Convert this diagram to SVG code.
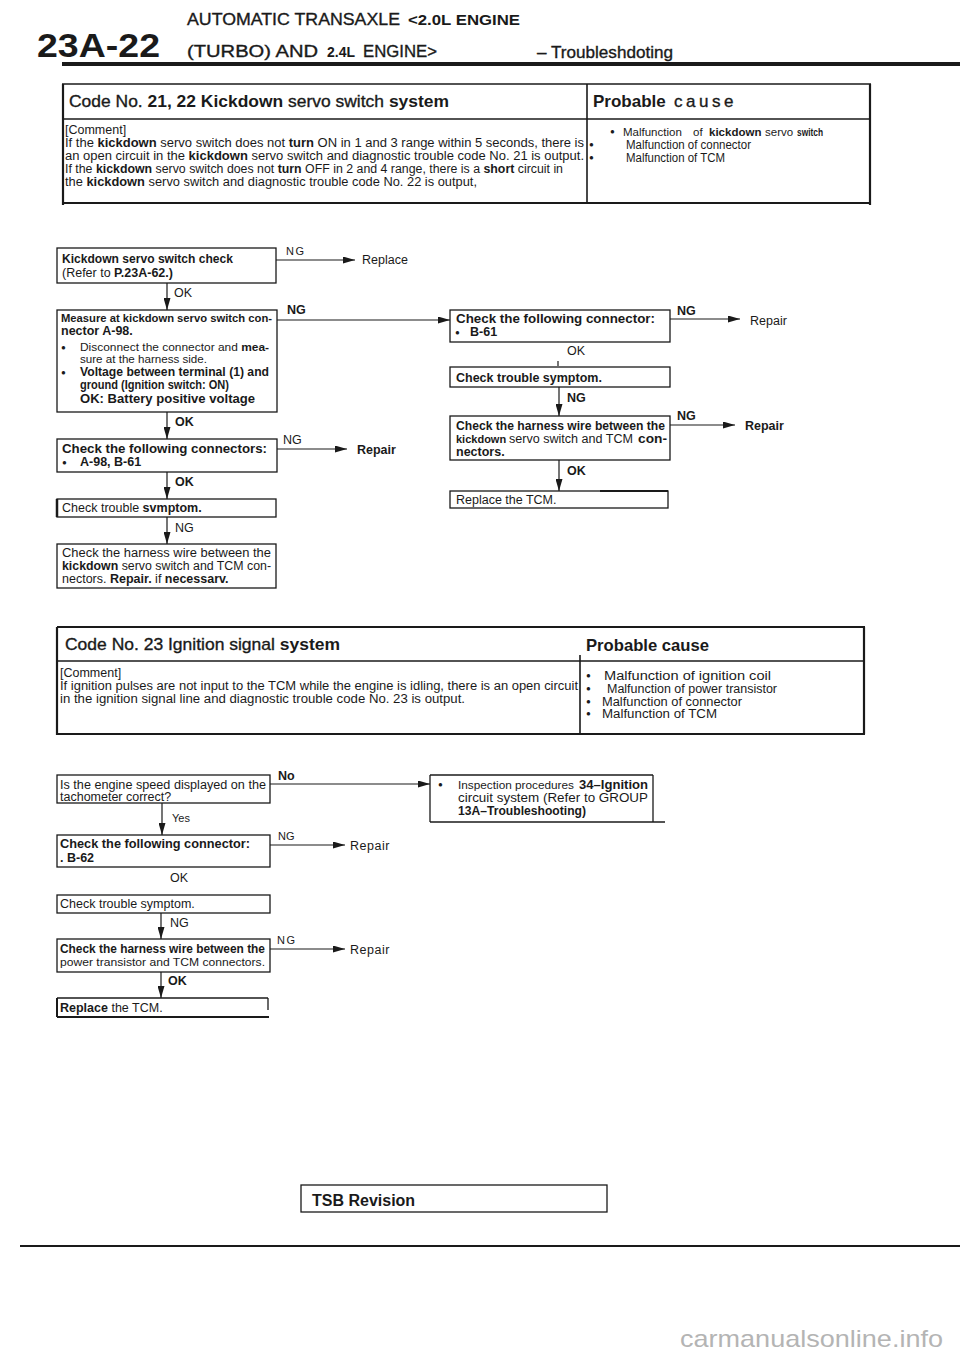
<svg xmlns="http://www.w3.org/2000/svg" width="960" height="1358" viewBox="0 0 960 1358">
<style>
text{font-family:"Liberation Sans",Arial,Helvetica,sans-serif;fill:#1a1a1a}
.t{font-size:12.5px}
.s{font-size:11px}
.h{font-size:17px}
.b{font-weight:bold}
.m{stroke:#1a1a1a;stroke-width:0.35}
.box{fill:none;stroke:#1a1a1a;stroke-width:1.3}
.ln{fill:none;stroke:#1a1a1a;stroke-width:1.2}
.tl{fill:none;stroke:#1a1a1a;stroke-width:1.6}
.tk{fill:none;stroke:#1a1a1a;stroke-width:2.2}
.bu{font-size:8px}
</style>
<defs>
<marker id="ah" markerUnits="userSpaceOnUse" markerWidth="13" markerHeight="7" refX="12" refY="3.5" orient="auto">
<path d="M0,0 L12,3.5 L0,7 z" fill="#1a1a1a"/>
</marker>
</defs>
<rect width="960" height="1358" fill="#ffffff"/>

<g id="header">
<text x="37" y="57" class="b" style="font-size:34px" textLength="123" lengthAdjust="spacingAndGlyphs">23A-22</text>
<text x="187" y="25" class="m" style="font-size:17px" textLength="213" lengthAdjust="spacingAndGlyphs">AUTOMATIC  TRANSAXLE</text>
<text x="408" y="25" class="b" style="font-size:15px" textLength="112" lengthAdjust="spacingAndGlyphs">&lt;2.0L ENGINE</text>
<text x="187" y="57" class="m" style="font-size:17px" textLength="131" lengthAdjust="spacingAndGlyphs">(TURBO)  AND</text>
<text x="327" y="57" class="b" style="font-size:15px" textLength="28" lengthAdjust="spacingAndGlyphs">2.4L</text>
<text x="363" y="57" class="m" style="font-size:17px" textLength="74" lengthAdjust="spacingAndGlyphs">ENGINE&gt;</text>
<text x="537" y="58" class="m" style="font-size:17px" textLength="136" lengthAdjust="spacingAndGlyphs">–  Troubleshdoting</text>
<line x1="62" y1="64" x2="960" y2="64" stroke="#1a1a1a" stroke-width="4"/>
</g>

<g id="table1">
<line class="tl" x1="62" y1="84" x2="871" y2="84"/>
<line class="tl" x1="62" y1="119" x2="871" y2="119"/>
<line class="tk" x1="62" y1="203" x2="871" y2="203"/>
<line class="tk" x1="63" y1="84" x2="63" y2="205"/>
<line class="tk" x1="870" y1="84" x2="870" y2="205"/>
<line class="tl" x1="587" y1="84" x2="587" y2="203"/>
<text x="69" y="107" class="h" textLength="380" lengthAdjust="spacingAndGlyphs"><tspan class="m">Code No. </tspan><tspan class="b">21, 22 Kickdown</tspan><tspan class="m"> servo switch </tspan><tspan class="b">system</tspan></text>
<text x="593" y="107" class="h"><tspan class="b">Probable</tspan><tspan class="m" letter-spacing="3.5">  cause</tspan></text>
<text x="65" y="134" class="t">[Comment]</text>
<text x="65" y="147" class="t" textLength="519" lengthAdjust="spacingAndGlyphs">If the <tspan class="b">kickdown</tspan> servo switch does not <tspan class="b">turn</tspan> ON in 1 and 3 range within 5 seconds, there is</text>
<text x="65" y="160" class="t" textLength="519" lengthAdjust="spacingAndGlyphs">an open circuit in the <tspan class="b">kickdown</tspan> servo switch and diagnostic trouble code No. 21 is output.</text>
<text x="65" y="173" class="t" textLength="498" lengthAdjust="spacingAndGlyphs">If the <tspan class="b">kickdown</tspan> servo switch does not <tspan class="b">turn</tspan> OFF in 2 and 4 range, there is a <tspan class="b">short</tspan> circuit in</text>
<text x="65" y="186" class="t" textLength="412" lengthAdjust="spacingAndGlyphs">the <tspan class="b">kickdown</tspan> servo switch and diagnostic trouble code No. 22 is output,</text>
<text x="610" y="134" class="bu">●</text>
<text x="623" y="136" style="font-size:11.5px">Malfunction</text>
<text x="693" y="136" style="font-size:11.5px">of</text>
<text x="709" y="136" class="b" style="font-size:11.5px">kickdown</text>
<text x="765" y="136" style="font-size:11.5px">servo</text>
<text x="797" y="136" class="b" style="font-size:11.5px" textLength="26" lengthAdjust="spacingAndGlyphs">switch</text>
<text x="589" y="147" class="bu">●</text>
<text x="626" y="149" class="t" textLength="125" lengthAdjust="spacingAndGlyphs">Malfunction of connector</text>
<text x="589" y="160" class="bu">●</text>
<text x="626" y="162" class="t" textLength="99" lengthAdjust="spacingAndGlyphs">Malfunction of TCM</text>
</g>

<g id="connectors">
<line class="ln" x1="276" y1="260" x2="355" y2="260" marker-end="url(#ah)"/>
<text x="286" y="255" class="s" letter-spacing="1.5">NG</text>
<line class="ln" x1="167" y1="283" x2="167" y2="310" marker-end="url(#ah)"/>
<text x="174" y="297" class="t">OK</text>
<line class="ln" x1="277" y1="320" x2="450" y2="320" marker-end="url(#ah)"/>
<text x="287" y="314" class="t b">NG</text>
<line class="ln" x1="167" y1="412" x2="167" y2="439" marker-end="url(#ah)"/>
<text x="175" y="426" class="t b">OK</text>
<line class="ln" x1="277" y1="449" x2="347" y2="449" marker-end="url(#ah)"/>
<text x="283" y="444" class="t">NG</text>
<text x="357" y="454" class="t b">Repair</text>
<line class="ln" x1="167" y1="472" x2="167" y2="499" marker-end="url(#ah)"/>
<text x="175" y="486" class="t b">OK</text>
<line class="ln" x1="167" y1="517" x2="167" y2="544" marker-end="url(#ah)"/>
<text x="175" y="532" class="t">NG</text>
<line class="ln" x1="670" y1="319" x2="740" y2="319" marker-end="url(#ah)"/>
<text x="677" y="315" class="t b">NG</text>
<text x="750" y="325" class="t">Repair</text>
<text x="567" y="355" class="t">OK</text>
<line class="ln" x1="558" y1="361" x2="558" y2="366"/>
<line class="ln" x1="559" y1="387" x2="559" y2="416" marker-end="url(#ah)"/>
<text x="567" y="402" class="t b">NG</text>
<line class="ln" x1="670" y1="425" x2="735" y2="425" marker-end="url(#ah)"/>
<text x="677" y="420" class="t b">NG</text>
<text x="745" y="430" class="t b">Repair</text>
<line class="ln" x1="559" y1="460" x2="559" y2="491" marker-end="url(#ah)"/>
<text x="567" y="475" class="t b">OK</text>
<line class="ln" x1="270" y1="784" x2="430" y2="784" marker-end="url(#ah)"/>
<text x="278" y="780" class="t b">No</text>
<line class="ln" x1="162" y1="803" x2="162" y2="835" marker-end="url(#ah)"/>
<text x="172" y="822" class="s">Yes</text>
<line class="ln" x1="270" y1="845" x2="345" y2="845" marker-end="url(#ah)"/>
<text x="278" y="840" class="s">NG</text>
<text x="350" y="850" class="t" letter-spacing="0.5">Repair</text>
<text x="170" y="882" class="t">OK</text>
<line class="ln" x1="161" y1="913" x2="161" y2="939" marker-end="url(#ah)"/>
<text x="170" y="927" class="t">NG</text>
<line class="ln" x1="270" y1="949" x2="345" y2="949" marker-end="url(#ah)"/>
<text x="277" y="944" class="s" letter-spacing="1.5">NG</text>
<text x="350" y="954" class="t" letter-spacing="0.5">Repair</text>
<line class="ln" x1="161" y1="972" x2="161" y2="998" marker-end="url(#ah)"/>
<text x="168" y="985" class="t b">OK</text>
</g>

<g id="replace1"><text x="362" y="264" class="t">Replace</text></g>

<g id="n1">
<rect class="box" x="57" y="248" width="219" height="35"/>
<text x="62" y="263" class="t b" textLength="171" lengthAdjust="spacingAndGlyphs">Kickdown servo switch check</text>
<text x="62" y="277" class="t">(Refer to <tspan class="b">P.23A-62.)</tspan></text>
</g>

<g id="n2">
<rect class="box" x="57" y="310" width="220" height="102"/>
<text x="61" y="322" class="b" style="font-size:11px" textLength="211" lengthAdjust="spacingAndGlyphs">Measure at kickdown servo switch con-</text>
<text x="61" y="335" class="t b">nector A-98.</text>
<text x="61" y="350" class="bu">●</text>
<text x="80" y="351" class="s" textLength="189" lengthAdjust="spacingAndGlyphs">Disconnect the connector and <tspan class="b">mea-</tspan></text>
<text x="80" y="363" class="s" textLength="127" lengthAdjust="spacingAndGlyphs">sure at the harness side.</text>
<text x="61" y="375" class="bu">●</text>
<text x="80" y="376" class="b" style="font-size:12px" textLength="189" lengthAdjust="spacingAndGlyphs">Voltage between terminal (1) and</text>
<text x="80" y="389" class="b" style="font-size:12px" textLength="149" lengthAdjust="spacingAndGlyphs">ground (Ignition switch: ON)</text>
<text x="80" y="403" class="t b" textLength="175" lengthAdjust="spacingAndGlyphs">OK: Battery positive voltage</text>
</g>

<g id="n3">
<rect class="box" x="57" y="439" width="220" height="33"/>
<text x="62" y="453" class="b" style="font-size:12px" textLength="205" lengthAdjust="spacingAndGlyphs">Check the following connectors:</text>
<text x="62" y="465" class="bu">●</text>
<text x="80" y="466" class="t b">A-98, B-61</text>
</g>

<g id="n4">
<rect class="box" x="57" y="499" width="219" height="18"/>
<line x1="57" y1="499" x2="57" y2="517" stroke="#1a1a1a" stroke-width="2.5"/>
<text x="62" y="512" class="t">Check trouble <tspan class="b">svmptom.</tspan></text>
</g>

<g id="n5">
<rect class="box" x="57" y="544" width="219" height="44"/>
<text x="62" y="557" class="t" textLength="209" lengthAdjust="spacingAndGlyphs">Check the harness wire between the</text>
<text x="62" y="570" class="t" textLength="209" lengthAdjust="spacingAndGlyphs"><tspan class="b">kickdown</tspan> servo switch and TCM con-</text>
<text x="62" y="583" class="t">nectors.  <tspan class="b">Repair.</tspan> if <tspan class="b">necessarv.</tspan></text>
</g>

<g id="n6">
<rect class="box" x="450" y="310" width="220" height="32"/>
<text x="456" y="323" class="b" style="font-size:12px" textLength="199" lengthAdjust="spacingAndGlyphs">Check the following connector:</text>
<text x="455" y="335" class="bu">●</text>
<text x="470" y="336" class="t b">B-61</text>
</g>

<g id="n7">
<rect class="box" x="450" y="367" width="220" height="20"/>
<text x="456" y="382" class="t b">Check trouble symptom.</text>
</g>

<g id="n8">
<rect class="box" x="450" y="416" width="220" height="44"/>
<text x="456" y="430" class="b" style="font-size:12px" textLength="209" lengthAdjust="spacingAndGlyphs">Check the harness wire between the</text>
<text x="456" y="443" class="b" style="font-size:11px">kickdown</text>
<text x="509" y="443" class="t" textLength="124" lengthAdjust="spacingAndGlyphs">servo switch and TCM</text>
<text x="638" y="443" class="t b" textLength="29" lengthAdjust="spacingAndGlyphs">con-</text>
<text x="456" y="456" class="t b">nectors.</text>
</g>

<g id="n9">
<rect class="box" x="450" y="491" width="218" height="17"/>
<line x1="600" y1="491" x2="668" y2="491" stroke="#1a1a1a" stroke-width="2.2"/>
<text x="456" y="504" class="t">Replace the TCM.</text>
</g>

<g id="table2">
<line class="tk" x1="57" y1="627" x2="865" y2="627"/>
<line class="tl" x1="57" y1="661" x2="865" y2="661"/>
<line class="tk" x1="57" y1="734" x2="865" y2="734"/>
<line class="tk" x1="57" y1="627" x2="57" y2="735"/>
<line class="tk" x1="864" y1="627" x2="864" y2="734"/>
<line class="tl" x1="580" y1="655" x2="580" y2="734"/>
<text x="65" y="650" class="h" textLength="275" lengthAdjust="spacingAndGlyphs"><tspan class="m">Code No. 23 Ignition signal </tspan><tspan class="b">system</tspan></text>
<text x="586" y="651" class="h b" textLength="123" lengthAdjust="spacingAndGlyphs">Probable  cause</text>
<text x="60" y="677" class="t">[Comment]</text>
<text x="60" y="690" class="t" textLength="518" lengthAdjust="spacingAndGlyphs">If ignition pulses are not input to the TCM while the engine is idling, there is an open circuit</text>
<text x="60" y="703" class="t" textLength="405" lengthAdjust="spacingAndGlyphs">in the ignition signal line and diagnostic trouble code No. 23 is output.</text>
<text x="586" y="678" class="bu">●</text>
<text x="604" y="680" class="t" textLength="167" lengthAdjust="spacingAndGlyphs">Malfunction  of  ignition  coil</text>
<text x="586" y="691" class="bu">●</text>
<text x="607" y="693" class="t" textLength="170" lengthAdjust="spacingAndGlyphs">Malfunction of power transistor</text>
<text x="586" y="704" class="bu">●</text>
<text x="602" y="706" class="t" textLength="140" lengthAdjust="spacingAndGlyphs">Malfunction of connector</text>
<text x="586" y="716" class="bu">●</text>
<text x="602" y="718" class="t" textLength="115" lengthAdjust="spacingAndGlyphs">Malfunction of TCM</text>
</g>

<g id="nA">
<rect class="box" x="57" y="775" width="213" height="28"/>
<text x="60" y="789" class="t" textLength="206" lengthAdjust="spacingAndGlyphs">Is the engine speed displayed on the</text>
<text x="60" y="801" class="t">tachometer correct?</text>
</g>

<g id="nB">
<line class="box" x1="430" y1="775" x2="653" y2="775"/>
<line class="box" x1="430" y1="775" x2="430" y2="822"/>
<line class="box" x1="653" y1="775" x2="653" y2="822"/>
<line class="box" x1="430" y1="822" x2="665" y2="822"/>
<text x="438" y="787" class="bu">●</text>
<text x="458" y="789" class="s" textLength="116" lengthAdjust="spacingAndGlyphs">Inspection procedures</text>
<text x="579" y="789" class="t b" textLength="69" lengthAdjust="spacingAndGlyphs">34–Ignition</text>
<text x="458" y="802" class="t" textLength="190" lengthAdjust="spacingAndGlyphs">circuit system (Refer to GROUP</text>
<text x="458" y="815" class="t b" textLength="128" lengthAdjust="spacingAndGlyphs">13A–Troubleshooting)</text>
</g>

<g id="nC">
<rect class="box" x="57" y="835" width="213" height="32"/>
<text x="60" y="848" class="t b" textLength="190" lengthAdjust="spacingAndGlyphs">Check the following connector:</text>
<text x="60" y="862" class="t b">.   B-62</text>
</g>

<g id="nD">
<rect class="box" x="57" y="895" width="213" height="18"/>
<text x="60" y="908" class="t">Check trouble symptom.</text>
</g>

<g id="nE">
<rect class="box" x="57" y="939" width="213" height="33"/>
<text x="60" y="953" class="b" style="font-size:12px" textLength="205" lengthAdjust="spacingAndGlyphs">Check the harness wire between the</text>
<text x="60" y="966" class="s" textLength="205" lengthAdjust="spacingAndGlyphs">power transistor and TCM connectors.</text>
</g>

<g id="nF">
<line class="box" x1="57" y1="998" x2="268" y2="998"/>
<line class="box" x1="268" y1="998" x2="268" y2="1010"/>
<line x1="57" y1="998" x2="57" y2="1017" stroke="#1a1a1a" stroke-width="2"/>
<line x1="57" y1="1017" x2="269" y2="1017" stroke="#1a1a1a" stroke-width="1.8"/>
<text x="60" y="1012" class="t"><tspan class="b">Replace</tspan> the TCM.</text>
</g>

<g id="footer">
<rect class="box" x="301" y="1185" width="306" height="27"/>
<text x="312" y="1206" class="b" style="font-size:16px">TSB  Revision</text>
<line x1="20" y1="1246" x2="960" y2="1246" stroke="#1a1a1a" stroke-width="2"/>
<text x="680" y="1347" style="font-size:24px;fill:#b4b4b4" textLength="263" lengthAdjust="spacingAndGlyphs">carmanualsonline.info</text>
</g>
</svg>
